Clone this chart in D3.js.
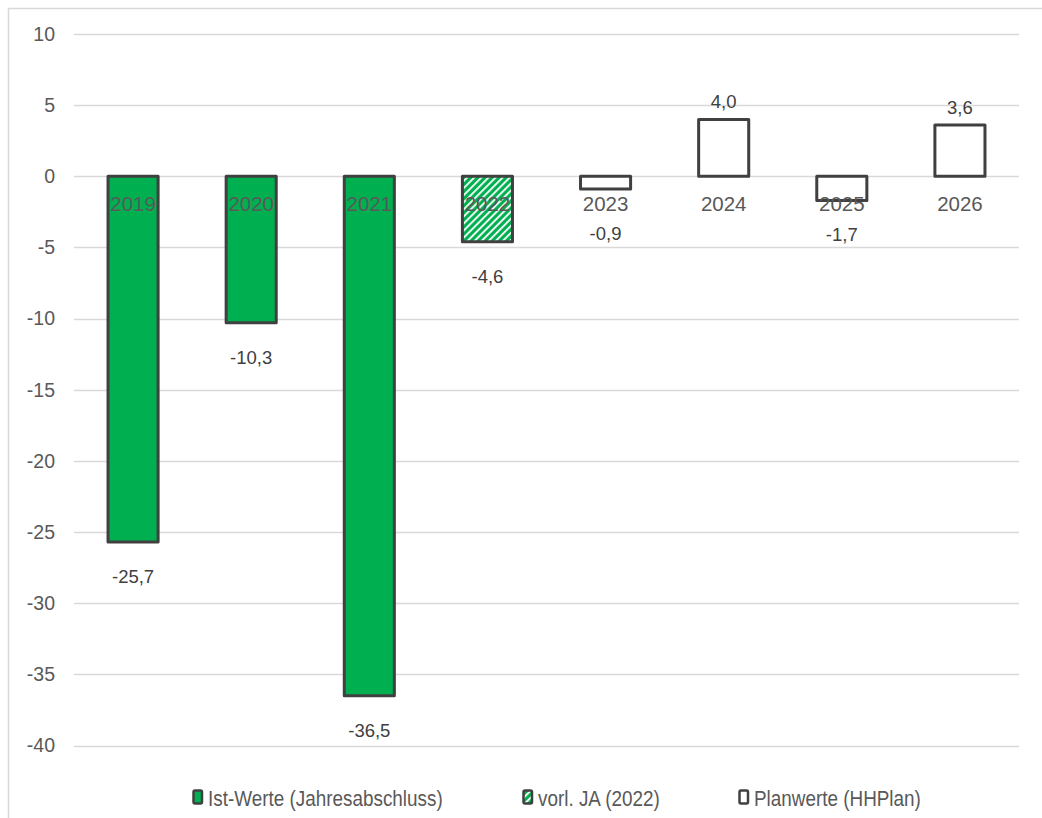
<!DOCTYPE html>
<html><head><meta charset="utf-8">
<script src="https://cdn.jsdelivr.net/npm/d3@7"></script>
<style>body{margin:0;background:#fff;} text{font-family:"Liberation Sans",Arial,sans-serif;}</style>
</head><body>
<svg id="c" width="1042" height="818"></svg>
<script>
const categories = ["2019","2020","2021","2022","2023","2024","2025","2026"];
const values = [-25.7,-10.3,-36.5,-4.6,-0.9,4.0,-1.7,3.6];
const seriesType = ["ist","ist","ist","vorl","plan","plan","plan","plan"];
const yTicks = [10,5,0,-5,-10,-15,-20,-25,-30,-35,-40];
const legendLabels = [
  {key:"ist", label:"Ist-Werte (Jahresabschluss)"},
  {key:"vorl", label:"vorl. JA (2022)"},
  {key:"plan", label:"Planwerte (HHPlan)"}
];

const svg = d3.select("#c");
const green = "#00B050", stroke = "#404040", txt = "#595959";

const defs = svg.append("defs");
const pat = defs.append("pattern").attr("id","hatch").attr("patternUnits","userSpaceOnUse")
  .attr("width",5).attr("height",5).attr("patternTransform","rotate(45)");
pat.append("rect").attr("width",5).attr("height",5).attr("fill",green);
pat.append("rect").attr("x",0).attr("width",1.8).attr("height",5).attr("fill","#fff");

// outer border (cropped)
svg.append("rect").attr("x",8.5).attr("y",8.5).attr("width",1100).attr("height",900)
  .attr("fill","none").attr("stroke","#d9d9d9").attr("stroke-width",1.5);

const x = d3.scaleBand().domain(categories).range([74,1019]).paddingInner(0.576).paddingOuter(0.288);
const y = d3.scaleLinear().domain([-40,10]).range([745.5,34]);

// gridlines
svg.append("g").selectAll("line").data(yTicks).join("line")
  .attr("x1",74).attr("x2",1019).attr("y1",d=>Math.round(y(d))+0.5).attr("y2",d=>Math.round(y(d))+0.5)
  .attr("stroke","#d9d9d9").attr("stroke-width",1.5);

// y axis labels
const yAxis = d3.axisLeft(y).tickValues(yTicks).tickSize(0).tickPadding(0).tickFormat(d=>String(d));
const gy = svg.append("g").attr("transform","translate(55,0)").call(yAxis);
gy.select(".domain").remove();
gy.selectAll("text").attr("fill",txt).style("font-size","19.5px").style("font-family","Liberation Sans, Arial, sans-serif");

const fillFor = t => t==="ist" ? green : (t==="vorl" ? "url(#hatch)" : "#fff");

// bars
svg.append("g").selectAll("rect").data(values).join("rect")
  .attr("x",(d,i)=>x(categories[i]))
  .attr("width",x.bandwidth())
  .attr("y",d=>y(Math.max(0,d)))
  .attr("height",d=>Math.abs(y(d)-y(0)))
  .attr("fill",(d,i)=>fillFor(seriesType[i]))
  .attr("stroke",stroke).attr("stroke-width",3).attr("stroke-linejoin","round");

// category labels
svg.append("g").selectAll("text").data(categories).join("text")
  .attr("x",d=>x(d)+x.bandwidth()/2).attr("y",y(0)+34.5)
  .attr("text-anchor","middle").attr("fill",txt).style("font-size","20.5px").text(d=>d);

// value labels
const fmt = v => v.toFixed(1).replace(".",",");
svg.append("g").selectAll("text").data(values).join("text")
  .attr("x",(d,i)=>x(categories[i])+x.bandwidth()/2)
  .attr("y",d=> d<0 ? Math.max(y(d)+41, 240) : y(d)-11)
  .attr("text-anchor","middle").attr("fill","#404040").style("font-size","18.5px").text(fmt);

// legend
const legX = [193,523,739];
const lg = svg.append("g").selectAll("g").data(legendLabels).join("g")
  .attr("transform",(d,i)=>`translate(${legX[i]},797)`);
lg.append("rect").attr("x",0.5).attr("y",-6.5).attr("width",8.5).attr("height",13).attr("rx",1.5)
  .attr("fill",d=>fillFor(d.key)).attr("stroke",stroke).attr("stroke-width",2.5);
lg.append("text").attr("transform","translate(15,8.5) scale(0.9,1.05)").attr("fill",txt)
  .style("font-size","21px")
  .text(d=>d.label);
</script>
</body></html>
